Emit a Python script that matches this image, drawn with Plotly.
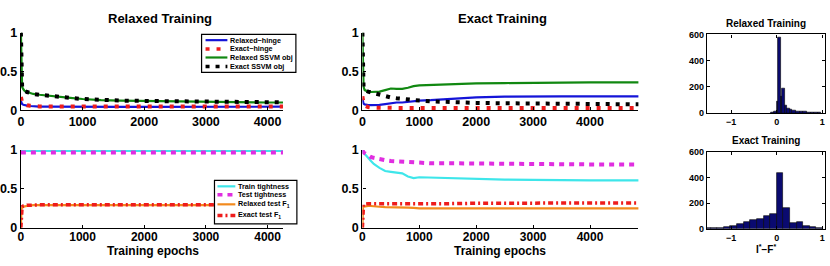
import plotly.graph_objects as go

# ---------------- data ----------------
ep_rel = [0, 5, 10, 20, 40, 60, 100, 150, 200, 300, 400, 600, 800, 1000, 1300, 1600, 2000, 2500, 3000, 3500, 4000, 4500]
rel_hinge_relaxed = [0.12, 0.1, 0.09, 0.08, 0.07, 0.065, 0.06, 0.055, 0.05, 0.048, 0.046, 0.044, 0.043, 0.042, 0.042, 0.043, 0.044, 0.045, 0.045, 0.046, 0.046, 0.046]
rel_hinge_exact = [0.17, 0.14, 0.12, 0.1, 0.085, 0.075, 0.065, 0.058, 0.053, 0.05, 0.048, 0.047, 0.046, 0.045, 0.045, 0.046, 0.047, 0.047, 0.048, 0.048, 0.048, 0.048]
rel_obj_relaxed = [1.0, 0.55, 0.38, 0.3, 0.27, 0.25, 0.235, 0.22, 0.21, 0.2, 0.19, 0.175, 0.16, 0.145, 0.13, 0.125, 0.12, 0.115, 0.11, 0.105, 0.1, 0.1]
rel_obj_exact = [1.0, 0.55, 0.38, 0.3, 0.27, 0.25, 0.235, 0.22, 0.21, 0.2, 0.19, 0.175, 0.16, 0.145, 0.13, 0.125, 0.12, 0.115, 0.11, 0.105, 0.1, 0.1]
rel_train_tight = [0.99] * 22
rel_test_tight = [0.97] * 22
rel_f1_relaxed = [0, 0.2, 0.24, 0.26, 0.27, 0.275, 0.28, 0.285, 0.29, 0.29, 0.29, 0.29, 0.29, 0.29, 0.29, 0.29, 0.29, 0.29, 0.29, 0.29, 0.29, 0.29]
rel_f1_exact = [0, 0.22, 0.25, 0.27, 0.28, 0.285, 0.29, 0.29, 0.295, 0.295, 0.295, 0.295, 0.295, 0.295, 0.295, 0.295, 0.295, 0.295, 0.295, 0.295, 0.295, 0.295]

ep_ex = [0, 5, 10, 20, 40, 60, 100, 150, 200, 300, 400, 500, 600, 700, 800, 900, 1000, 1200, 1500, 2000, 2500, 3000, 3500, 4000, 4500, 4900]
ex_hinge_relaxed = [0.15, 0.12, 0.1, 0.085, 0.075, 0.07, 0.068, 0.066, 0.065, 0.07, 0.08, 0.09, 0.1, 0.1, 0.11, 0.12, 0.125, 0.13, 0.145, 0.165, 0.175, 0.18, 0.18, 0.18, 0.18, 0.18]
ex_hinge_exact = [0.18, 0.15, 0.12, 0.09, 0.06, 0.05, 0.04, 0.035, 0.033, 0.032, 0.031, 0.03, 0.03, 0.03, 0.03, 0.03, 0.03, 0.03, 0.03, 0.03, 0.03, 0.03, 0.03, 0.03, 0.03, 0.03]
ex_obj_relaxed = [1.0, 0.6, 0.4, 0.3, 0.26, 0.25, 0.24, 0.235, 0.235, 0.24, 0.26, 0.28, 0.275, 0.275, 0.29, 0.31, 0.32, 0.325, 0.335, 0.345, 0.35, 0.355, 0.36, 0.36, 0.36, 0.36]
ex_obj_exact = [1.0, 0.6, 0.4, 0.3, 0.26, 0.25, 0.24, 0.23, 0.22, 0.2, 0.18, 0.165, 0.155, 0.145, 0.135, 0.13, 0.125, 0.115, 0.105, 0.095, 0.09, 0.085, 0.08, 0.078, 0.077, 0.076]
ex_train_tight = [1.0, 0.99, 0.98, 0.97, 0.95, 0.93, 0.9, 0.86, 0.82, 0.77, 0.73, 0.72, 0.71, 0.7, 0.66, 0.64, 0.65, 0.645, 0.64, 0.63, 0.62, 0.615, 0.61, 0.61, 0.61, 0.61]
ex_test_tight = [1.0, 0.99, 0.98, 0.97, 0.96, 0.95, 0.93, 0.91, 0.9, 0.88, 0.87, 0.86, 0.855, 0.85, 0.84, 0.835, 0.835, 0.83, 0.83, 0.825, 0.82, 0.82, 0.815, 0.815, 0.815, 0.815]
ex_f1_relaxed = [0, 0.22, 0.26, 0.27, 0.275, 0.28, 0.28, 0.28, 0.275, 0.27, 0.265, 0.265, 0.265, 0.265, 0.26, 0.255, 0.25, 0.25, 0.25, 0.25, 0.25, 0.25, 0.25, 0.25, 0.25, 0.25]
ex_f1_exact = [0, 0.24, 0.28, 0.3, 0.305, 0.31, 0.31, 0.31, 0.31, 0.31, 0.31, 0.31, 0.305, 0.305, 0.3, 0.3, 0.3, 0.305, 0.31, 0.315, 0.315, 0.32, 0.32, 0.32, 0.32, 0.32]

hist_rel_centers = [-0.09, -0.03, 0.015, 0.065, 0.105, 0.155, 0.2, 0.25, 0.31, 0.38, 0.46, 0.54, 0.62, 0.7, 0.78, 0.86, 0.94]
hist_rel_counts = [3, 10, 88, 580, 125, 190, 60, 38, 28, 22, 16, 12, 9, 7, 5, 3, 2]
hist_rel_widths = [0.06, 0.06, 0.04, 0.06, 0.03, 0.06, 0.04, 0.06, 0.06, 0.08, 0.08, 0.08, 0.08, 0.08, 0.08, 0.08, 0.08]

hist_ex_centers = [-1.5225, -1.3775, -1.2325, -1.0875, -0.9425, -0.7975, -0.6525, -0.5075, -0.3625, -0.2175, -0.0725, 0.0725, 0.2175, 0.3625, 0.5075, 0.6525, 0.7975, 0.9425]
hist_ex_counts = [2, 3, 6, 15, 18, 35, 55, 68, 80, 97, 118, 437, 163, 45, 50, 22, 12, 8]

top_legend_labels = ["Relaxed−hinge", "Exact−hinge", "Relaxed SSVM obj", "Exact SSVM obj"]
bot_legend_labels = ["Train tightness", "Test tightness", "Relaxed test F<sub>1</sub>", "Exact test F<sub>1</sub>"]

# ---------------- styles ----------------
BLUE = "#1414d8"
RED = "#ee1c1c"
GREEN = "#118811"
BLACK = "#000000"
CYAN = "#3ee6ea"
MAGENTA = "#e02ee0"
ORANGE = "#f28a1e"
NAVY = "#0a0a70"

top_styles = [dict(color=BLUE, width=2.2), dict(color=RED, width=4, dash="4px,7px"),
              dict(color=GREEN, width=2.2), dict(color=BLACK, width=4, dash="4px,6px")]
bot_styles = [dict(color=CYAN, width=2.2), dict(color=MAGENTA, width=4, dash="5px,5px"),
              dict(color=ORANGE, width=2.2), dict(color=RED, width=3.5, dash="5px,3px,2px,3px")]

fig = go.Figure()

def add_group(x, ys, styles, labels, xa, ya):
    for y, st, lab in zip(ys, styles, labels):
        fig.add_trace(go.Scatter(x=x, y=y, mode="lines", name=lab, line=st, xaxis=xa, yaxis=ya, showlegend=False))

add_group(ep_rel, (rel_hinge_relaxed, rel_hinge_exact, rel_obj_relaxed, rel_obj_exact), top_styles, top_legend_labels, "x", "y")
add_group(ep_ex, (ex_hinge_relaxed, ex_hinge_exact, ex_obj_relaxed, ex_obj_exact), top_styles, top_legend_labels, "x2", "y2")
add_group(ep_rel, (rel_train_tight, rel_test_tight, rel_f1_relaxed, rel_f1_exact), bot_styles, bot_legend_labels, "x4", "y4")
add_group(ep_ex, (ex_train_tight, ex_test_tight, ex_f1_relaxed, ex_f1_exact), bot_styles, bot_legend_labels, "x5", "y5")

fig.add_trace(go.Bar(x=hist_rel_centers, y=hist_rel_counts, width=hist_rel_widths, marker=dict(color=NAVY, line=dict(color="black", width=0.6)), xaxis="x3", yaxis="y3", showlegend=False))
fig.add_trace(go.Bar(x=hist_ex_centers, y=hist_ex_counts, width=0.145, marker=dict(color=NAVY, line=dict(color="black", width=0.6)), xaxis="x6", yaxis="y6", showlegend=False))

W, H = 830, 266
def px(v):
    return v / W
def py(v):
    return 1 - v / H
def dx(a, b):
    return [a / W, b / W]
def dy(top, bot):
    return [1 - bot / H, 1 - top / H]

tickfont_main = dict(size=12.5, color="black")
tickfont_bot = dict(size=12, color="black")
tickfont_hist = dict(size=9, color="black")
line_ax = dict(showline=True, linecolor="black", linewidth=1.2, ticks="inside", ticklen=3, tickcolor="black", showgrid=False, zeroline=False)

ep_ticks = [0, 1000, 2000, 3000, 4000]
y_ticks = [0, 0.5, 1]
y_ticktext = ["0", "0.5", "1"]

layout_axes = dict(
    xaxis=dict(domain=dx(15, 279), range=[0, 4250], anchor="y", tickvals=ep_ticks, tickfont=tickfont_main, **line_ax),
    yaxis=dict(domain=dy(27, 109), range=[0, 1.0], anchor="x", tickvals=y_ticks, ticktext=y_ticktext, tickfont=tickfont_main, **line_ax),
    xaxis2=dict(domain=dx(359, 637), range=[0, 4850], anchor="y2", tickvals=ep_ticks, tickfont=tickfont_main, **line_ax),
    yaxis2=dict(domain=dy(27, 109), range=[0, 1.0], anchor="x2", tickvals=y_ticks, ticktext=y_ticktext, tickfont=tickfont_main, **line_ax),
    xaxis4=dict(domain=dx(15, 279), range=[0, 4250], anchor="y4", tickvals=ep_ticks, tickfont=tickfont_bot, ticklabelstandoff=-2, **line_ax),
    yaxis4=dict(domain=dy(151, 233), range=[0, 1.0], anchor="x4", tickvals=y_ticks, ticktext=y_ticktext, tickfont=tickfont_main, **line_ax),
    xaxis5=dict(domain=dx(359, 637), range=[0, 4850], anchor="y5", tickvals=ep_ticks, tickfont=tickfont_bot, ticklabelstandoff=-2, **line_ax),
    yaxis5=dict(domain=dy(151, 233), range=[0, 1.0], anchor="x5", tickvals=y_ticks, ticktext=y_ticktext, tickfont=tickfont_main, **line_ax),
    xaxis3=dict(domain=dx(706, 825), range=[-1.53, 1.06], anchor="y3", tickvals=[-1, 0, 1], tickfont=tickfont_hist, mirror="ticks", **line_ax),
    yaxis3=dict(domain=dy(29, 112), range=[0, 600], anchor="x3", tickvals=[0, 200, 400, 600], tickfont=tickfont_hist, mirror="ticks", **line_ax),
    xaxis6=dict(domain=dx(706, 825), range=[-1.53, 1.06], anchor="y6", tickvals=[-1, 0, 1], tickfont=tickfont_hist, mirror="ticks", **line_ax),
    yaxis6=dict(domain=dy(153, 234), range=[0, 600], anchor="x6", tickvals=[0, 200, 400, 600], tickfont=tickfont_hist, mirror="ticks", **line_ax),
)

annotations = [
    dict(text="Relaxed Training", x=px(155), y=py(12), size=13),
    dict(text="Exact Training", x=px(500), y=py(12), size=13),
    dict(text="Relaxed Training", x=px(766), y=py(17), size=10),
    dict(text="Exact Training", x=px(766), y=py(141), size=10),
    dict(text="Training epochs", x=px(148), y=py(258), size=12),
    dict(text="Training epochs", x=px(498), y=py(258), size=12),
    dict(text="I<sup>*</sup>−F<sup>*</sup>", x=px(766), y=py(255), size=10),
]
ann = []
for a in annotations:
    ann.append(dict(text=a["text"], x=a["x"], y=a["y"], xref="paper", yref="paper", showarrow=False,
                    font=dict(size=a["size"], color="black"), xanchor="center", yanchor="middle", borderpad=0))

shapes = []
legends = [
    dict(box=(197, 29, 292, 69), ys=[35, 44.3, 53.3, 62.7], x0=201, x1=223, tx=225, labels=top_legend_labels, styles=top_styles),
    dict(box=(210, 183, 293, 229), ys=[189.3, 198.3, 208.3, 220], x0=213, x1=231, tx=233, labels=bot_legend_labels, styles=bot_styles),
]
for lg in legends:
    bx0, by0, bx1, by1 = lg["box"]
    shapes.append(dict(type="rect", xref="paper", yref="paper", x0=px(bx0), x1=px(bx1), y0=py(by1), y1=py(by0),
                       line=dict(color="black", width=1.2), fillcolor="white", layer="above"))
    for yy, st, lab in zip(lg["ys"], lg["styles"], lg["labels"]):
        shapes.append(dict(type="line", xref="paper", yref="paper", x0=px(lg["x0"]), x1=px(lg["x1"]), y0=py(yy), y1=py(yy),
                           line=dict(color=st["color"], width=min(st["width"], 3.5), dash=st.get("dash", "solid")), layer="above"))
        ann.append(dict(text=lab, x=px(lg["tx"]), y=py(yy), xref="paper", yref="paper", showarrow=False,
                        font=dict(size=7.2, color="black"), xanchor="left", yanchor="middle", borderpad=0))

fig.update_layout(
    width=W, height=H,
    margin=dict(l=0, r=0, t=0, b=0),
    paper_bgcolor="white", plot_bgcolor="white",
    font=dict(family="Liberation Sans, Arial, sans-serif", weight="bold", color="black"),
    bargap=0,
    showlegend=False,
    annotations=ann,
    shapes=shapes,
    **layout_axes,
)

fig.write_html("out.html")
